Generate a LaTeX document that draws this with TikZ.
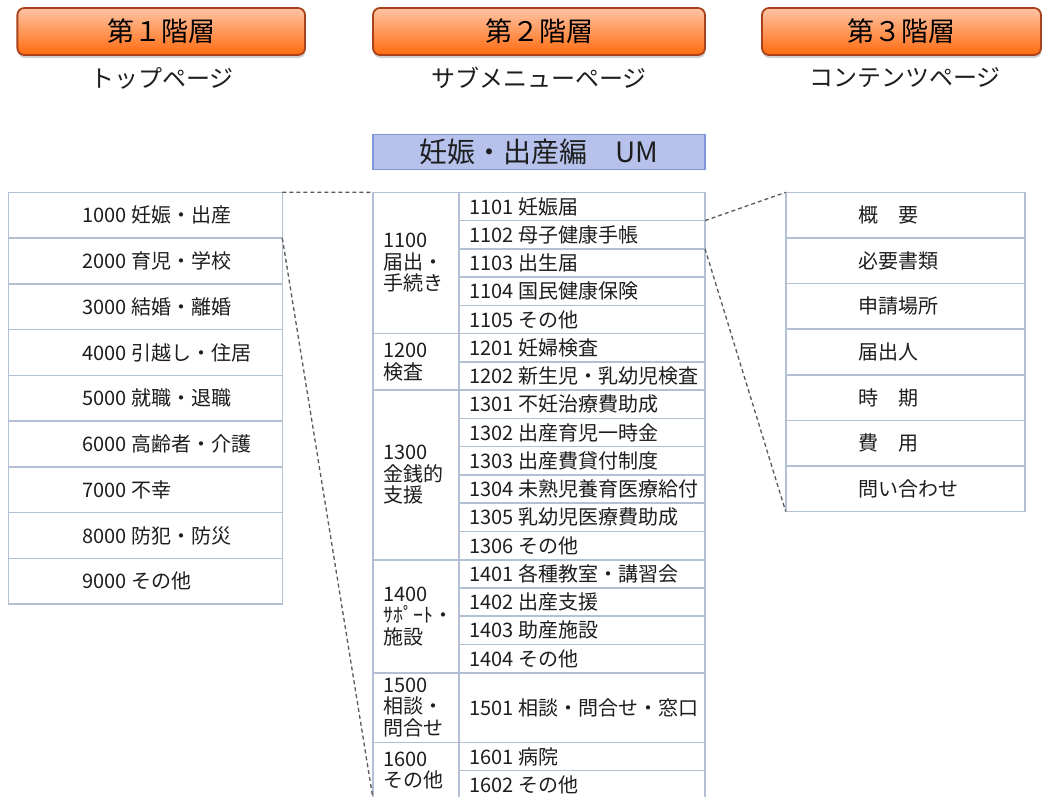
\documentclass[tikz,border=0pt]{standalone}
\usepackage{fontspec}
\setmainfont{Noto Sans CJK JP}
\usetikzlibrary{shadows}
\definecolor{grid}{HTML}{B3BFD2}
\definecolor{hdrtop}{HTML}{FFC4A4}
\definecolor{hdrbot}{HTML}{FF6A0E}
\definecolor{hdrline}{HTML}{A9421A}
\definecolor{umfill}{HTML}{B6C2EC}
\definecolor{umline}{HTML}{8194DC}
\definecolor{ink}{HTML}{1E1E1E}
\begin{document}
\begin{tikzpicture}[x=1pt,y=-1pt,
  cell/.style={draw=grid, line width=1.6pt, fill=white, inner sep=0pt, outer sep=0pt, rectangle},
  txt/.style={inner sep=0pt, text=ink, font=\fontsize{20}{21.5}\selectfont, anchor=west, align=left},
  hdr/.style={draw=hdrline, line width=1.8pt, rounded corners=7pt, top color=hdrtop, bottom color=hdrbot,
    minimum height=47pt, inner sep=0pt, outer sep=0pt, text=black, font=\fontsize{27}{29}\selectfont,
    drop shadow={shadow xshift=0.5pt, shadow yshift=-3pt, fill=black!30, opacity=0.6}},
  subtitle/.style={font=\fontsize{24}{26}\selectfont, text=ink, inner sep=0pt},
  link/.style={draw=black!65, line width=1.3pt, dash pattern=on 4pt off 3pt}]
\clip (0,0) rectangle (1045,796);
\fill[white] (0,0) rectangle (1045,796);

% headers
\node[hdr, minimum width=287.7pt] (H1) at (161.2,31.5) {第１階層};
\node[hdr, minimum width=332pt] (H2) at (539,31.5) {第２階層};
\node[hdr, minimum width=279pt] (H3) at (901.5,31.5) {第３階層};
\node[subtitle] (S1) at (162,78) {トップページ};
\node[subtitle] (S2) at (539,78) {サブメニューページ};
\node[subtitle] (S3) at (905,78) {コンテンツページ};

% UM title
\node[draw=umline, line width=1.8pt, fill=umfill, minimum width=332pt, minimum height=35pt,
  inner sep=0pt, outer sep=0pt, text=ink, font=\fontsize{28}{30}\selectfont] (UM) at (539,152) {妊娠・出産編　UM};

% left table
\foreach \t [count=\i from 0] in {1000 妊娠・出産,2000 育児・学校,3000 結婚・離婚,4000 引越し・住居,5000 就職・退職,6000 高齢者・介護,7000 不幸,8000 防犯・防災,9000 その他} {
  \pgfmathsetmacro\yc{192.3+45.75*\i+22.875}
  \node[cell, minimum width=274pt, minimum height=45.75pt] (L\i) at (145.3,\yc) {};
  \node[txt] (Lt\i) at (82,\yc) {\t};
}

% middle table: sub rows
\foreach \ya/\yb/\n/\t in {
  192.3/220.6/1101/妊娠届, 220.6/248.8/1102/母子健康手帳, 248.8/277.1/1103/出生届,
  277.1/305.3/1104/国民健康保険, 305.3/333.6/1105/その他,
  333.6/361.9/1201/妊婦検査, 361.9/390.1/1202/新生児・乳幼児検査,
  390.1/418.4/1301/不妊治療費助成, 418.4/446.6/1302/出産育児一時金, 446.6/474.9/1303/出産費貸付制度,
  474.9/503.2/1304/未熟児養育医療給付, 503.2/531.4/1305/乳幼児医療費助成, 531.4/559.7/1306/その他,
  559.7/587.9/1401/各種教室・講習会, 587.9/616.2/1402/出産支援, 616.2/644.5/1403/助産施設, 644.5/672.7/1404/その他,
  672.7/742.3/1501/相談・問合せ・窓口,
  742.3/770.5/1601/病院, 770.5/798.8/1602/その他} {
  \pgfmathsetmacro\yc{(\ya+\yb)/2}
  \pgfmathsetmacro\hh{\yb-\ya}
  \node[cell, minimum width=246pt, minimum height=\hh pt] (M\n) at (582,\yc) {};
  \node[txt] (Mt\n) at (469,\yc) {\n\space\t};
}

% middle table: group cells
\tikzset{grp/.style={cell, minimum width=86pt}}
\node[grp, minimum height=141.3pt] (G1100) at (416,263.0) {};
\node[txt] (Gt1100) at (383,263.0) {1100\\届出・\\手続き};
\node[grp, minimum height=56.5pt] (G1200) at (416,361.9) {};
\node[txt] (Gt1200) at (383,361.9) {1200\\検査};
\node[grp, minimum height=169.6pt] (G1300) at (416,474.9) {};
\node[txt] (Gt1300) at (383,474.9) {1300\\金銭的\\支援};
\node[grp, minimum height=113pt] (G1400) at (416,616.2) {};
\node[txt] (Gt1400) at (383,616.2) {1400\\ｻﾎﾟｰﾄ・\\施設};
\node[grp, minimum height=69.6pt] (G1500) at (416,707.5) {};
\node[txt] (Gt1500) at (383,707.5) {1500\\相談・\\問合せ};
\node[grp, minimum height=56.5pt] (G1600) at (416,770.55) {};
\node[txt] (Gt1600) at (383,770.55) {1600\\その他};

% right table
\foreach \t [count=\i from 0] in {概　要,必要書類,申請場所,届出人,時　期,費　用,問い合わせ} {
  \pgfmathsetmacro\yc{192.3+45.6*\i+22.8}
  \node[cell, minimum width=239.3pt, minimum height=45.6pt] (R\i) at (905.35,\yc) {};
  \node[txt] (Rt\i) at (858,\yc) {\t};
}

% connectors
\draw[link] (L0.north east) -- (G1100.north west);
\draw[link] (L0.south east) -- (G1600.south west);
\draw[link] (M1101.south east) -- (R0.north west);
\draw[link] (M1102.south east) -- (R6.south west);
\end{tikzpicture}
\end{document}
